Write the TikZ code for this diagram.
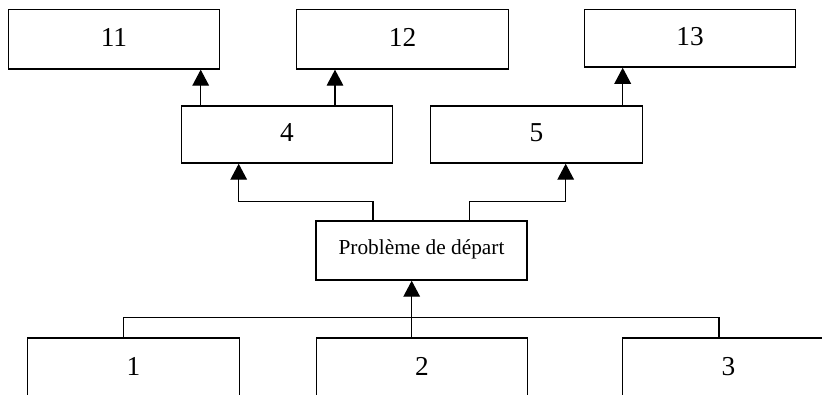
\documentclass[tikz,border=0pt]{standalone}
\usepackage{fontspec}
\setmainfont{Liberation Serif}
\usetikzlibrary{arrows.meta}
\begin{document}
\begin{tikzpicture}[x=0.75pt,y=-0.75pt,
  numbox/.style={draw=black,line width=1.1pt,inner sep=0pt,minimum width=211.5pt*0.75,
    font=\fontsize{20.5pt}{24pt}\selectfont,text depth=0.24em},
  startbox/.style={draw=black,line width=1.1pt,inner sep=0pt,minimum width=211pt*0.75,
    minimum height=59pt*0.75,font=\fontsize{16pt}{19pt}\selectfont,text depth=0.45em},
  conn/.style={draw=black,line width=0.85pt},
  arr/.style={conn,-{Triangle[width=12.5pt,length=12pt]}}]
\clip (0,0) rectangle (822,394);
\fill[white] (0,0) rectangle (822,394);
% top row
\node[numbox,minimum height=59.5pt*0.75] (n11) at (114,39.2) {11};
\node[numbox,minimum height=59.5pt*0.75] (n12) at (402.5,39.2) {12};
\node[numbox,minimum height=57.5pt*0.75] (n13) at (690,38.3) {13};
% middle row
\node[numbox,minimum height=57pt*0.75] (n4) at (287,134.5) {4};
\node[numbox,minimum height=57pt*0.75] (n5) at (536.5,134.5) {5};
% start problem
\node[startbox] (P) at (421.5,250.5) {Problème de départ};
% bottom row
\node[numbox,minimum height=60pt*0.75] (n1) at (133.5,368) {1};
\node[numbox,minimum height=60pt*0.75] (n2) at (422,368) {2};
\node[numbox,minimum height=60pt*0.75] (n3) at (728.5,368) {3};
% connectors
\draw[arr] (n4.north -| 200.7,0) -- (n11.south -| 200.7,0);
\draw[arr] (n4.north -| 335,0) -- (n12.south -| 335,0);
\draw[arr] (n5.north -| 622.7,0) -- (n13.south -| 622.7,0);
\draw[arr] (P.north -| 373,0) -- ++(0,-19) -| (n4.south -| 238.7,0);
\draw[arr] (P.north -| 469.3,0) -- ++(0,-19) -| (n5.south -| 565.7,0);
\draw[arr] (n2.north -| 411.7,0) -- (P.south -| 411.7,0);
\draw[conn] (n1.north -| 123.7,0) -- ++(0,-19.5) -| (n3.north -| 719,0);
\end{tikzpicture}
\end{document}
